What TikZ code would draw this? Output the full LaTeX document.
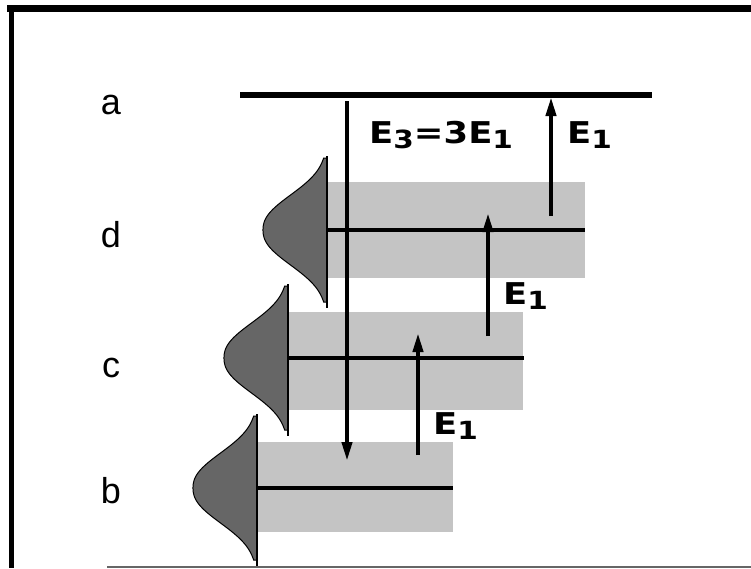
\documentclass[tikz,border=0pt]{standalone}
\usepackage{fontspec}
\setmainfont{Liberation Sans}
\newfontfamily\efont{DejaVu Sans}
\usetikzlibrary{arrows.meta}

% subscript used in the energy labels
\newcommand\esub[1]{\raisebox{-5pt}{\fontsize{25}{25}\selectfont #1}}
% bell-shaped distribution hanging to the left of a level line
\newcommand\bellshape[2]{%
  \path[bell] (#1,#2-72) -- plot[domain=-72:72, samples=90, smooth]
     ({#1-64*exp(-((abs(\x)+0.01)/45)^2.3)}, {#2+\x}) -- (#1,#2+72) -- cycle;
  \draw[line width=1.5pt] (#1,#2-74) -- (#1,#2+78);
}

\begin{document}
\begin{tikzpicture}[x=1pt, y=-1pt,
  band/.style={fill=black!23},
  level/.style={line width=3.5pt},
  toplevel/.style={line width=6pt},
  bell/.style={fill=black!60, draw=black, line width=1pt},
  transition/.style={line width=4pt, -{Triangle[width=10pt,length=19pt]}},
  elabel/.style={font=\efont\bfseries\fontsize{30}{30}\selectfont,
                 xscale=1.18, anchor=base west, inner sep=0pt},
  statelabel/.style={font=\fontsize{36}{36}\selectfont, anchor=base, inner sep=0pt},
  frame/.style={line width=#1}]
  \useasboundingbox (0,0) rectangle (751,568);

  % frame
  \draw[frame=7pt] (7,8.5) -- (751,8.5);
  \draw[frame=5pt] (11,5) -- (11,568);
  \draw[frame=2pt, black!60] (107,566.5) -- (751,566.5);

  % shaded bands round the levels d, c, b
  \fill[band] (327,182) rectangle (585,278);
  \fill[band] (288,312) rectangle (523,410);
  \fill[band] (257,442) rectangle (453,532);

  % level coordinates
  \coordinate (aL) at (240,95);  \coordinate (aR) at (652,95);
  \coordinate (dL) at (327,230); \coordinate (dR) at (585,230);
  \coordinate (cL) at (288,358); \coordinate (cR) at (524,358);
  \coordinate (bL) at (257,488); \coordinate (bR) at (453,488);

  % level lines
  \draw[toplevel] (aL) -- (aR);
  \draw[level] (dL) -- (dR);
  \draw[level] (cL) -- (cR);
  \draw[level] (bL) -- (bR);

  % distributions
  \bellshape{327}{230}
  \bellshape{288}{358}
  \bellshape{257}{488}

  % transitions
  \coordinate (e3s) at (347,101); \coordinate (e3e) at (347,461);
  \coordinate (t1s) at (418,455); \coordinate (t1e) at (418,333);
  \coordinate (t2s) at (488,336); \coordinate (t2e) at (488,213);
  \coordinate (t3s) at (551,216); \coordinate (t3e) at (551,97);
  \draw[transition] (e3s) -- (e3e);
  \draw[transition] (t1s) -- (t1e);
  \draw[transition] (t2s) -- (t2e);
  \draw[transition] (t3s) -- (t3e);

  % energy labels
  \node[elabel] (lE3) at (369,143) {E\esub{3}=3E\esub{1}};
  \node[elabel] (lt3) at (567,143) {E\esub{1}};
  \node[elabel] (lt2) at (503,304) {E\esub{1}};
  \node[elabel] (lt1) at (433,434) {E\esub{1}};

  % state labels
  \node[statelabel] (sa) at (111,114) {a};
  \node[statelabel] (sd) at (111,247) {d};
  \node[statelabel] (sc) at (111,377) {c};
  \node[statelabel] (sb) at (111,503) {b};
\end{tikzpicture}
\end{document}
